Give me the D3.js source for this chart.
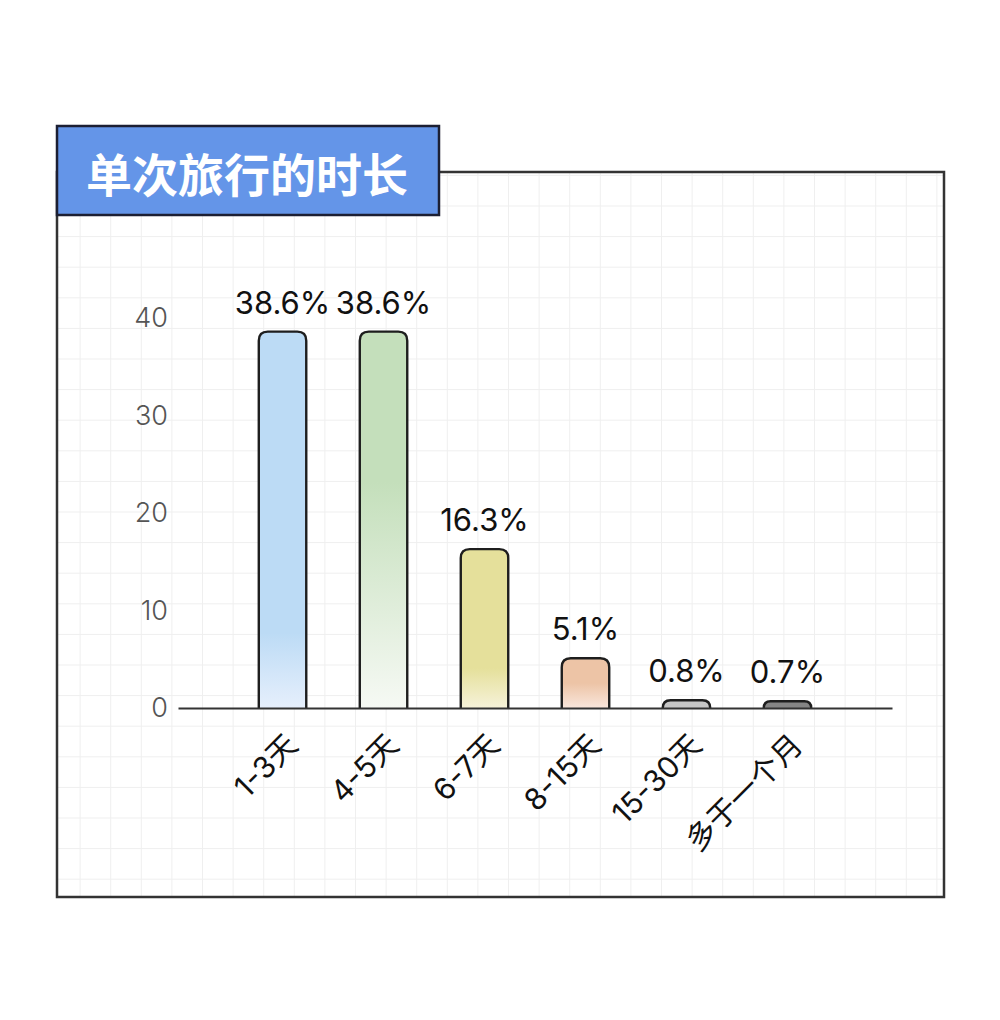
<!DOCTYPE html>
<html>
<head>
<meta charset="utf-8">
<script src="https://cdn.jsdelivr.net/npm/d3@7"></script>
<style>
  body { margin: 0; background: #fff; }
  text { font-family: Inter, "Noto Sans CJK SC", sans-serif; }
</style>
</head>
<body>
<div id="chart-area"></div>
<script>
// data
var categories = ["1-3天", "4-5天", "6-7天", "8-15天", "15-30天", "多于一个月"];
var values = [38.6, 38.6, 16.3, 5.1, 0.8, 0.7];
var valueLabels = ["38.6%", "38.6%", "16.3%", "5.1%", "0.8%", "0.7%"];
var yTicks = [0, 10, 20, 30, 40];
var title = "单次旅行的时长";

// bar colours: top colour, bottom colour, where the fade starts
var topColors = ["#bcdbf5", "#c4dfbb", "#e5e09b", "#edc4a6", "#c6c6c6", "#858585"];
var bottomColors = ["#e6effc", "#f6f9f4", "#f6f2d9", "#f9e6dc", "#c6c6c6", "#858585"];
var fadeFrom = [0.8, 0.4, 0.75, 0.5, 1, 1];

var width = 1000;
var height = 1020;

var svg = d3.select("#chart-area").append("svg")
	.attr("width", width)
	.attr("height", height);

// frame & grid
var frame = {left: 57, top: 172, right: 944, bottom: 897};
var gridStep = 30.6;

var grid = svg.append("g").attr("class", "grid");
for (var gx = 18.9; gx < frame.right; gx += gridStep) {
	if (gx <= frame.left) continue;
	grid.append("line")
		.attr("x1", gx).attr("x2", gx)
		.attr("y1", frame.top).attr("y2", frame.bottom)
		.attr("stroke", "#efefef").attr("stroke-width", 1);
}
for (var gy = 22.4; gy < frame.bottom; gy += gridStep) {
	if (gy <= frame.top) continue;
	grid.append("line")
		.attr("x1", frame.left).attr("x2", frame.right)
		.attr("y1", gy).attr("y2", gy)
		.attr("stroke", "#efefef").attr("stroke-width", 1);
}

svg.append("rect")
	.attr("x", frame.left).attr("y", frame.top)
	.attr("width", frame.right - frame.left)
	.attr("height", frame.bottom - frame.top)
	.attr("fill", "none")
	.attr("stroke", "#333")
	.attr("stroke-width", 2.5);

// title box
svg.append("rect")
	.attr("x", 57).attr("y", 126)
	.attr("width", 382).attr("height", 89)
	.attr("fill", "#6495e8")
	.attr("stroke", "#1c1f33")
	.attr("stroke-width", 2.5);

svg.append("text")
	.attr("x", 247).attr("y", 172)
	.attr("text-anchor", "middle")
	.attr("dominant-baseline", "central")
	.attr("font-size", "46px")
	.attr("font-weight", "bold")
	.style("font-family", "'Noto Sans CJK SC', sans-serif")
	.attr("fill", "#fff")
	.text(title);

// chart
var g = svg.append("g");

var x = d3.scaleBand()
	.domain(categories)
	.range([178, 892])
	.paddingInner(0.53)
	.paddingOuter(0.8);

var y = d3.scaleLinear()
	.domain([0, 40])
	.range([708, 318]);

var defs = svg.append("defs");
categories.forEach(function(c, i) {
	var grad = defs.append("linearGradient")
		.attr("id", "grad" + i)
		.attr("x1", 0).attr("x2", 0)
		.attr("y1", 0).attr("y2", 1);
	grad.append("stop").attr("offset", 0).attr("stop-color", topColors[i]);
	grad.append("stop").attr("offset", fadeFrom[i]).attr("stop-color", topColors[i]);
	grad.append("stop").attr("offset", 1).attr("stop-color", bottomColors[i]);
});

// bar path with rounded top corners
function barPath(x0, y0, w, h) {
	var r = Math.min(9, h, w / 2);
	return "M" + x0 + "," + (y0 + h) +
		"V" + (y0 + r) +
		"Q" + x0 + "," + y0 + " " + (x0 + r) + "," + y0 +
		"H" + (x0 + w - r) +
		"Q" + (x0 + w) + "," + y0 + " " + (x0 + w) + "," + (y0 + r) +
		"V" + (y0 + h);
}

g.selectAll("path.bar").data(values).enter()
	.append("path")
		.attr("class", "bar")
		.attr("d", function(d, i) {
			return barPath(x(categories[i]), y(d), x.bandwidth(), y(0) - y(d));
		})
		.attr("fill", function(d, i) { return "url(#grad" + i + ")"; })
		.attr("stroke", "#1e1e1e")
		.attr("stroke-width", 2.4);

// value labels
g.selectAll("text.val").data(values).enter()
	.append("text")
		.attr("class", "val")
		.attr("x", function(d, i) { return x(categories[i]) + x.bandwidth() / 2; })
		.attr("y", function(d) { return y(d) - 18; })
		.attr("text-anchor", "middle")
		.attr("font-size", "31px")
		.attr("fill", "#111")
		.text(function(d, i) { return valueLabels[i]; });

// left axis (labels only)
var leftAxis = d3.axisLeft(y).tickValues(yTicks).tickSize(0).tickPadding(0);
var la = g.append("g")
	.attr("class", "left axis")
	.attr("transform", "translate(168, 0)")
	.call(leftAxis);
la.select(".domain").remove();
la.selectAll("text")
	.attr("font-size", "27px")
	.attr("font-weight", 300)
	.attr("fill", "#555")
	.style("font-family", "Inter, sans-serif");

// bottom axis line
var ba = g.append("g")
	.attr("class", "bottom axis")
	.attr("transform", "translate(0, 708)")
	.call(d3.axisBottom(x).tickSize(0).tickSizeOuter(0));
ba.select(".domain")
	.attr("stroke", "#333")
	.attr("stroke-width", 2.2);
ba.selectAll(".tick text")
	.attr("font-size", "30px")
	.attr("fill", "#111")
	.attr("text-anchor", "end")
	.attr("x", 0).attr("y", 0).attr("dy", 0)
	.attr("transform", "translate(17, 39) rotate(-45)");
</script>
</body>
</html>
